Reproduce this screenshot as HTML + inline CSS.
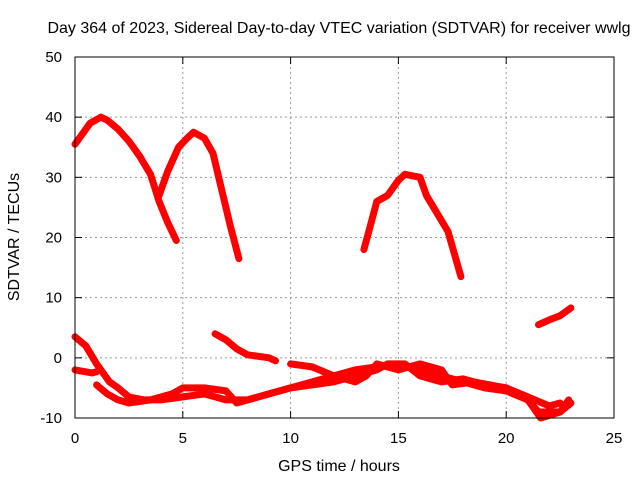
<!DOCTYPE html>
<html><head><meta charset="utf-8"><style>
body{margin:0;background:#fff;}
svg{display:block;font-family:"Liberation Sans",sans-serif;}
</style></head><body>
<svg width="640" height="480" viewBox="0 0 640 480">
<rect x="0" y="0" width="640" height="480" fill="#fff"/>
<text x="339" y="33" text-anchor="middle" font-size="16" fill="#000">Day 364 of 2023, Sidereal Day-to-day VTEC variation (SDTVAR) for receiver wwlg</text>
<g id="grid"></g>
<g id="ticks"></g>
<g id="series"></g>
<rect x="75" y="57" width="539" height="361" fill="none" stroke="#000" stroke-width="1"/>
<text x="339" y="471" text-anchor="middle" font-size="16">GPS time / hours</text>
<text transform="translate(19,237) rotate(-90)" text-anchor="middle" font-size="16">SDTVAR / TECUs</text>
</svg>
<script>
const xTicks=[0,5,10,15,20,25];
const yTicks=[-10,0,10,20,30,40,50];
const trackA=[[0,35.5],[0.3,37],[0.7,39],[1.2,40],[1.5,39.5],[2,38],[2.5,36],[3,33.5],[3.5,30.5],[3.9,26],[4.3,22.5],[4.7,19.5]];
const trackB=[[3.9,27],[4.3,31],[4.8,35],[5.2,36.5],[5.5,37.5],[6,36.5],[6.4,34],[6.8,28],[7.2,22],[7.6,16.5]];
const trackC=[[13.4,18],[13.7,22],[14,26],[14.5,27],[15,29.5],[15.3,30.5],[16,30],[16.3,27],[16.8,24],[17.3,21],[17.9,13.5]];
const trackD=[[21.5,5.5],[22,6.3],[22.5,7],[23,8.3]];
const trackE=[[0,3.5],[0.5,2],[1,-1],[1.6,-4],[2,-5],[2.5,-6.5],[3.2,-7],[4,-7],[5,-6.5],[6,-6],[7,-7],[8,-7],[9,-6],[10,-5],[11,-4],[12,-3],[13,-2],[14,-1.5],[15,-1],[16,-2],[17,-3],[18,-4],[19,-5],[20,-5.5],[21,-7],[21.5,-9],[22.5,-9],[23,-7.5]];
const trackF1=[[0,-2],[0.8,-2.5],[1.0,-2.3]];
const trackF=[[1,-4.5],[1.5,-6],[2,-7],[2.5,-7.5],[3.5,-7],[4.5,-6],[5,-5],[6,-5],[7,-5.5],[7.5,-7.5],[8.5,-6.5],[10,-5],[11,-4.5],[12,-4],[13,-3],[14,-2],[14.5,-1],[15.3,-1],[16,-3],[17,-4],[18,-3.5],[19,-4.5],[20,-5],[21,-6.5],[22,-8],[22.5,-7.5]];
const trackG=[[6.5,4],[7,3],[7.5,1.5],[8,0.5],[9,0],[9.3,-0.5]];
const trackH=[[10,-1],[11,-1.5],[12,-3],[13,-4],[13.5,-3],[14,-1],[15,-2],[16,-1],[17,-2],[17.5,-4.5],[18.5,-4],[20,-5],[21,-7],[21.6,-10],[22.5,-9],[22.9,-7]];
const tracks=[["track-a",trackA],["track-b",trackB],["track-c",trackC],["track-d",trackD],["track-e",trackE],["track-f1",trackF1],["track-f",trackF],["track-g",trackG],["track-h",trackH]];
const X=h=>75+h*(539/25);
const Y=v=>418-(v+10)*(361/60);
const NS="http://www.w3.org/2000/svg";
const grid=document.getElementById('grid'),ticks=document.getElementById('ticks'),series=document.getElementById('series');
function mk(tag,attrs,parent){const e=document.createElementNS(NS,tag);for(const k in attrs)e.setAttribute(k,attrs[k]);parent.appendChild(e);return e;}
xTicks.forEach(t=>{
  const x=X(t);
  if(t>0&&t<25){const g=mk('line',{x1:x,x2:x,y1:57,y2:418,stroke:'#999','stroke-dasharray':'2,3'},grid);
  
  }
  const l=mk('line',{x1:x,x2:x,y1:418,y2:411,stroke:'#000'},ticks);
  
  
  const l2=mk('line',{x1:x,x2:x,y1:57,y2:64,stroke:'#000'},ticks);
  
  
  const tx=mk('text',{x:x,y:443,'text-anchor':'middle','font-size':'15'},ticks);tx.textContent=t;
  
  
});
yTicks.forEach(t=>{
  const y=Y(t);
  if(t>-10&&t<50){const g=mk('line',{x1:75,x2:614,y1:y,y2:y,stroke:'#999','stroke-dasharray':'2,3'},grid);
  
  }
  const l=mk('line',{x1:75,x2:82,y1:y,y2:y,stroke:'#000'},ticks);
  
  
  const l2=mk('line',{x1:607,x2:614,y1:y,y2:y,stroke:'#000'},ticks);
  
  
  const tx=mk('text',{x:62,y:y+5,'text-anchor':'end','font-size':'15'},ticks);tx.textContent=t;
  
  
});
tracks.forEach(([name,pts])=>{
  const p=mk('polyline',{points:pts.map(d=>X(d[0]).toFixed(1)+','+Y(d[1]).toFixed(1)).join(' '),fill:'none',stroke:'#f00','stroke-width':'7','stroke-linejoin':'round','stroke-linecap':'round'},series);
  
  
});
</script>
</body></html>
